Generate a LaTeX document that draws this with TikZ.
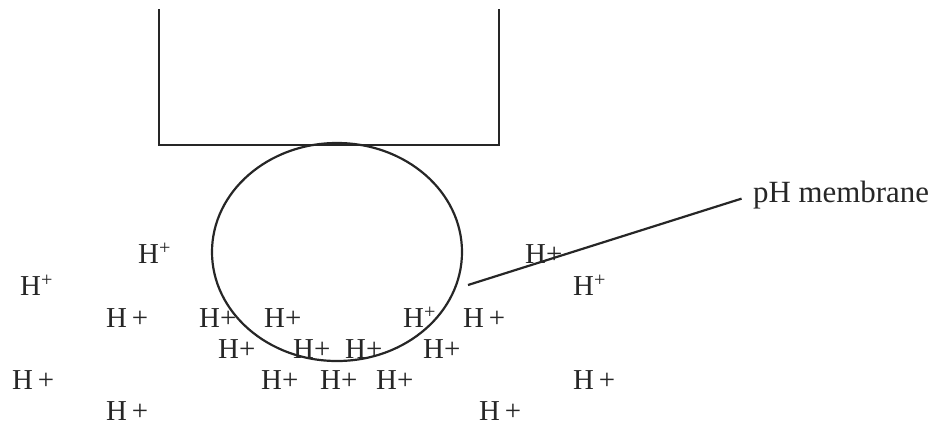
\documentclass[tikz,border=0pt]{standalone}
\usepackage{fontspec}
\setmainfont{Liberation Serif}
\begin{document}
\begin{tikzpicture}[x=1bp,y=-1bp,
  ink/.style={draw=black!85, line width=2.2bp},
  ion/.style={anchor=base west, inner sep=0pt, text=black!85, font=\fontsize{29}{34}\selectfont},
  lbl/.style={anchor=west, inner sep=0pt, text=black!85, font=\fontsize{31}{36}\selectfont}]
\useasboundingbox (0,0) rectangle (937,425);
% container
\draw[ink] (159,9) -- (159,145) -- (499,145) -- (499,9);
% membrane bulb
\draw[ink] (337,252) ellipse [x radius=125bp, y radius=109bp];
% label and leader
\node[lbl] (m) at (753,195) {pH membrane};
\coordinate (tail) at (468,285);
\draw[ink, shorten >=12bp] (tail) -- (m.west);
% ions
\node[ion] (i1) at (138,263) {H\textsuperscript{+}};
\node[ion] (i2) at (20,295) {H\textsuperscript{+}};
\node[ion] (i3) at (106,327) {H\,+};
\node[ion] (i4) at (199,327) {H+};
\node[ion] (i5) at (264,327) {H+};
\node[ion] (i6) at (218,358) {H+};
\node[ion] (i7) at (293,358) {H+};
\node[ion] (i8) at (345,358) {H+};
\node[ion] (i9) at (403,327) {H\textsuperscript{+}};
\node[ion] (i10) at (463,327) {H\,+};
\node[ion] (i11) at (423,358) {H+};
\node[ion] (i12) at (12,389) {H\,+};
\node[ion] (i13) at (261,389) {H+};
\node[ion] (i14) at (320,389) {H+};
\node[ion] (i15) at (376,389) {H+};
\node[ion] (i16) at (106,420) {H\,+};
\node[ion] (i17) at (479,420) {H\,+};
\node[ion] (i18) at (573,389) {H\,+};
\node[ion] (i19) at (525,263) {H+};
\node[ion] (i20) at (573,295) {H\textsuperscript{+}};
\end{tikzpicture}
\end{document}
